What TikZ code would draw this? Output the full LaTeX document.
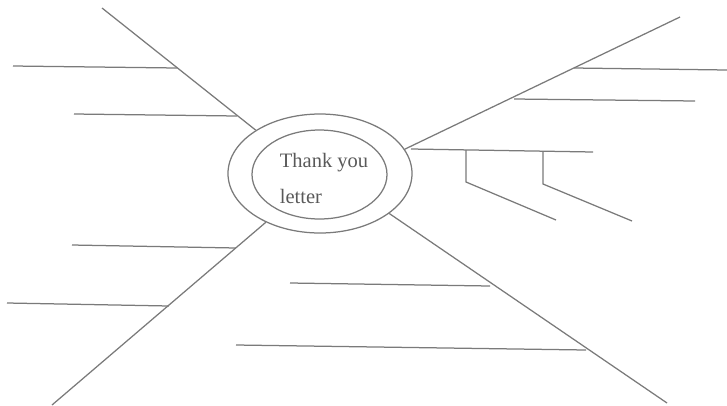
\documentclass[tikz,border=0pt]{standalone}
\usepackage{fontspec}
\setmainfont{Liberation Serif}
\usetikzlibrary{positioning,shapes.geometric}

\begin{document}
\begin{tikzpicture}[x=1pt,y=-1pt,line width=1.25pt,
  spoke/.style={draw=black!52},
  ring/.style={draw=black!52,ellipse,inner sep=0pt}]
\useasboundingbox (0,0) rectangle (727,405);
\node[ring,minimum width=184pt,minimum height=119pt] (outer) at (320,173.5) {};
\node[ring,minimum width=135pt,minimum height=89pt] (inner) at (319.5,174.5) {};
\node[align=left,inner sep=0pt,text=black!65,font=\fontsize{20.5}{36}\selectfont] (caption) at (324,178) {Thank you\\letter};
% upper left
\coordinate (ulEnd) at (102,8);
\coordinate (ulA) at (177,68);
\coordinate (ulB) at (237,116);
\coordinate (ulAfree) at (13,66);
\coordinate (ulBfree) at (74,114);
\draw[spoke] (outer.146)--(ulEnd);
\draw[spoke] (ulA)--(ulAfree);
\draw[spoke] (ulB)--(ulBfree);
% upper right
\coordinate (urEnd) at (680,17);
\coordinate (urA) at (574,68);
\coordinate (urB) at (514,99);
\coordinate (urAfree) at (727,70);
\coordinate (urBfree) at (695,101);
\draw[spoke] (outer.16)--(urEnd);
\draw[spoke] (urA)--(urAfree);
\draw[spoke] (urB)--(urBfree);
% right
\coordinate (rStart) at (411,149);
\coordinate (rEnd) at (593,152);
\coordinate (rA) at (466,150);
\coordinate (rB) at (543,151);
\coordinate (rAfree) at (556,220);
\coordinate (rBfree) at (632,221);
\draw[spoke] (rStart)--(rEnd);
\draw[spoke] (rA)--(466,182)--(rAfree);
\draw[spoke] (rB)--(543,184)--(rBfree);
% lower left
\coordinate (llEnd) at (52,405);
\coordinate (llA) at (236,248);
\coordinate (llB) at (169,306);
\coordinate (llAfree) at (72,245);
\coordinate (llBfree) at (7,303);
\draw[spoke] (outer.222.6)--(llEnd);
\draw[spoke] (llA)--(llAfree);
\draw[spoke] (llB)--(llBfree);
% lower right
\coordinate (lrEnd) at (667,403);
\coordinate (lrA) at (490,286);
\coordinate (lrB) at (586,350);
\coordinate (lrAfree) at (290,283);
\coordinate (lrBfree) at (236,345);
\draw[spoke] (outer.-30.7)--(lrEnd);
\draw[spoke] (lrA)--(lrAfree);
\draw[spoke] (lrB)--(lrBfree);
\end{tikzpicture}
\end{document}
